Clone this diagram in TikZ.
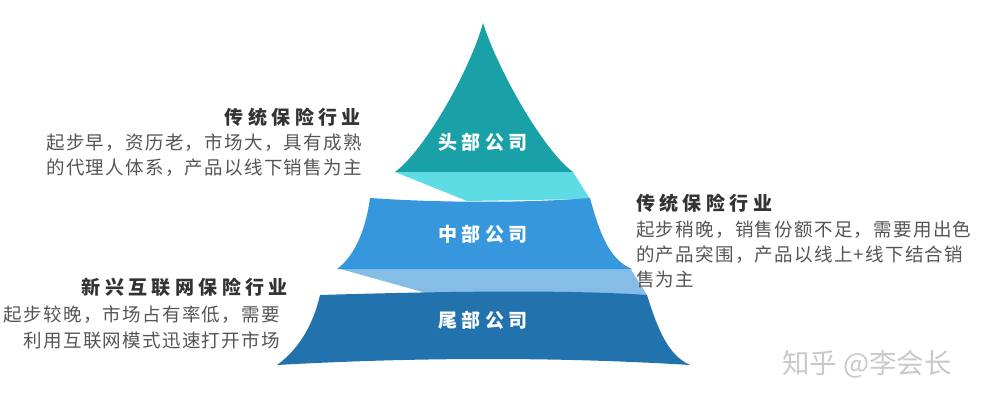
\documentclass[tikz,border=0pt]{standalone}
\usepackage{fontspec}
\newfontfamily\bodyfont[LetterSpace=7]{Noto Sans CJK SC}
\newfontfamily\titlefont[LetterSpace=23]{Noto Sans CJK SC}
\newfontfamily\lblfont[LetterSpace=22]{Noto Sans CJK SC}
\newfontfamily\wmfont{Noto Sans CJK SC}
\definecolor{topc}{HTML}{1AA0A7}
\definecolor{cyanc}{HTML}{5EDCE4}
\definecolor{midc}{HTML}{3697DC}
\definecolor{lbc}{HTML}{86BDE7}
\definecolor{botc}{HTML}{2273AD}
\definecolor{titlec}{HTML}{333333}
\definecolor{bodyc}{HTML}{555555}
\definecolor{wmc}{HTML}{C9C9C9}
\tikzset{
  lbl/.style={inner sep=0pt, text=white, font=\lblfont\bfseries\fontsize{19}{19}\selectfont},
  ttl/.style={inner sep=0pt, text=titlec, font=\titlefont\bfseries\fontsize{19}{19}\selectfont},
  bdy/.style={inner sep=0pt, text=bodyc, font=\bodyfont\fontsize{18.5}{18.5}\selectfont},
  wm/.style={inner sep=0pt, text=wmc, font=\wmfont\fontsize{27.5}{27.5}\selectfont}
}
\begin{document}
\begin{tikzpicture}[x=1pt,y=-1pt]
\useasboundingbox (0,0) rectangle (982,406);
% connecting bands
\fill[cyanc] (395,172) -- (573,172) -- (590,199) -- (467,201) -- cycle;
\fill[lbc] (337,268) -- (630,268) -- (647,295) -- (437,296) -- cycle;
% top triangle
\fill[topc] (483,23) .. controls (470,70) and (425,150) .. (395,172)
  -- (573,172) .. controls (543,150) and (498,70) .. (483,23) -- cycle;
% middle band
\fill[midc] (370,198) .. controls (440,203) and (530,203) .. (590,198)
  .. controls (600,235) and (610,260) .. (632,269)
  -- (337,269) .. controls (352,258) and (365,235) .. (370,198) -- cycle;
% bottom band
\fill[botc] (320,295) .. controls (420,292) and (560,289) .. (647,295)
  .. controls (658,330) and (668,355) .. (690,365)
  .. controls (560,357) and (420,357) .. (277,365)
  .. controls (295,352) and (312,330) .. (320,295) -- cycle;
% labels in pyramid
\node[lbl] (headlbl) at (483,142) {头部公司};
\node[lbl] (midlbl) at (483,234) {中部公司};
\node[lbl] (taillbl) at (483,320) {尾部公司};
% left top block
\node[ttl, anchor=east] (lttitle) at (361,117) {传统保险行业};
\node[bdy, anchor=east] (ltone) at (362,143) {起步早，资历老，市场大，具有成熟};
\node[bdy, anchor=east] (lttwo) at (362,168) {的代理人体系，产品以线下销售为主};
% right block
\node[ttl, anchor=west] (rtitle) at (636,203) {传统保险行业};
\node[bdy, anchor=west] (rone) at (636,230) {起步稍晚，销售份额不足，需要用出色};
\node[bdy, anchor=west] (rtwo) at (636,255) {的产品突围，产品以线上+线下结合销};
\node[bdy, anchor=west] (rthree) at (636,279) {售为主};
% left bottom block
\node[ttl, anchor=east] (lbtitle) at (288,287) {新兴互联网保险行业};
\node[bdy, anchor=east] (lbone) at (280,315) {起步较晚，市场占有率低，需要};
\node[bdy, anchor=east] (lbtwo) at (280,340) {利用互联网模式迅速打开市场};
% watermark
\node[wm] (wmark) at (867,364) {知乎 @李会长};
\end{tikzpicture}
\end{document}
